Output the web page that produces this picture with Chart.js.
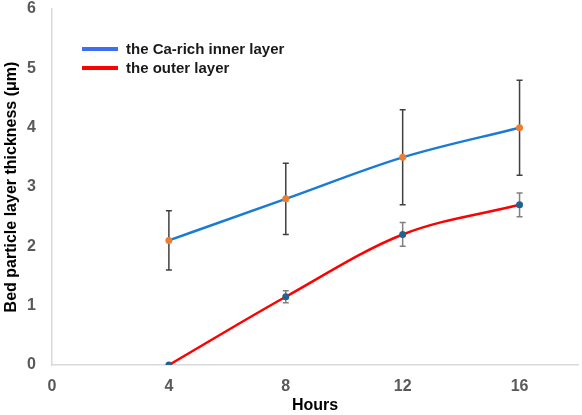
<!DOCTYPE html>
<html>
<head>
<meta charset="utf-8">
<script src="https://cdn.jsdelivr.net/npm/chart.js@4"></script>
<style>
  html, body { margin: 0; padding: 0; background: #fff; }
  #wrap { width: 582px; height: 415px; position: relative; }
</style>
</head>
<body>
<div id="wrap"><canvas id="thicknessChart"></canvas></div>
<script>
// data
const hours = [4, 8, 12, 16];
const innerLabel = 'the Ca-rich inner layer';
const innerValues = [2.1, 2.8, 3.5, 4.0];
const innerLow = [1.6, 2.2, 2.7, 3.2];
const innerHigh = [2.6, 3.4, 4.3, 4.8];
const outerLabel = 'the outer layer';
const outerValues = [0, 1.15, 2.2, 2.7];
const outerLow = [null, 1.05, 2.0, 2.5];
const outerHigh = [null, 1.25, 2.4, 2.9];
const xTicks = [0, 4, 8, 12, 16];

const tickFont = { family: 'Arial, "Liberation Sans"', size: 16, weight: 'bold' };
const titleFont = { family: 'Arial, "Liberation Sans"', size: 16, weight: 'bold' };

function toPoints(xs, ys) {
  return xs.map((x, i) => ({ x: x, y: ys[i] }));
}

// vertical error bars with small caps
const errorBars = {
  id: 'errorBars',
  beforeDatasetsDraw(chart) {
    const c = chart.ctx;
    const xs = chart.scales.x, ys = chart.scales.y;
    const sets = [
      { low: innerLow, high: innerHigh, color: '#404040' },
      { low: outerLow, high: outerHigh, color: '#808080' }
    ];
    c.save();
    sets.forEach(s => {
      c.strokeStyle = s.color;
      c.lineWidth = 1.5;
      hours.forEach((h, i) => {
        if (s.low[i] == null) return;
        const px = xs.getPixelForValue(h);
        const y1 = ys.getPixelForValue(s.low[i]);
        const y2 = ys.getPixelForValue(s.high[i]);
        c.beginPath();
        c.moveTo(px, y1); c.lineTo(px, y2);
        c.moveTo(px - 3, y1); c.lineTo(px + 3, y1);
        c.moveTo(px - 3, y2); c.lineTo(px + 3, y2);
        c.stroke();
      });
    });
    c.restore();
  }
};

// legend inside the plot, top left
const innerLegend = {
  id: 'innerLegend',
  afterDraw(chart) {
    const c = chart.ctx;
    const items = [
      { text: innerLabel, color: '#3d6ff2', y: 49 },
      { text: outerLabel, color: '#ff0000', y: 68 }
    ];
    c.save();
    c.font = 'bold 15px Arial, "Liberation Sans"';
    c.textBaseline = 'middle';
    items.forEach(it => {
      c.strokeStyle = it.color;
      c.lineWidth = 4;
      c.beginPath();
      c.moveTo(82, it.y); c.lineTo(118, it.y);
      c.stroke();
      c.fillStyle = '#1a1a1a';
      c.fillText(it.text, 126, it.y + 1);
    });
    c.restore();
  }
};

const chart = new Chart(document.getElementById('thicknessChart'), {
  type: 'line',
  data: {
    datasets: [{
      label: innerLabel,
      data: toPoints(hours, innerValues),
      borderColor: '#1a7bd3',
      borderWidth: 2.5,
      pointBackgroundColor: '#ed7d31',
      pointBorderWidth: 0,
      pointRadius: 3.5,
      cubicInterpolationMode: 'monotone'
    }, {
      label: outerLabel,
      data: toPoints(hours, outerValues),
      borderColor: '#ff0000',
      borderWidth: 2.5,
      pointBackgroundColor: '#1f6391',
      pointBorderWidth: 0,
      pointRadius: 3.5,
      cubicInterpolationMode: 'monotone'
    }]
  },
  options: {
    responsive: true,
    maintainAspectRatio: false,
    animation: false,
    layout: { padding: { top: 9, right: 1, bottom: 0, left: 0 } },
    plugins: {
      legend: { display: false },
      tooltip: { enabled: false }
    },
    scales: {
      x: {
        type: 'linear',
        min: 0,
        max: 18,
        grid: { display: false, drawTicks: false },
        border: { color: '#d9d9d9', width: 1.5 },
        afterBuildTicks: s => { s.ticks = xTicks.map(v => ({ value: v })); },
        afterFit: s => { s.height = 50; },
        ticks: { font: tickFont, color: '#595959', padding: 12 },
        title: { display: true, text: 'Hours', font: titleFont, color: '#000', padding: { top: 0, bottom: 0 } }
      },
      y: {
        min: 0,
        max: 6,
        grid: { display: false, drawTicks: false },
        border: { color: '#d9d9d9', width: 1.5 },
        afterFit: s => { s.width = 52; s.paddingTop = 0; s.paddingBottom = 0; },
        ticks: { stepSize: 1, font: tickFont, color: '#595959', padding: 16 },
        title: { display: true, text: 'Bed particle layer thickness (μm)', font: titleFont, color: '#000', padding: { top: 2, bottom: 0 } }
      }
    }
  },
  plugins: [errorBars, innerLegend]
});
</script>
</body>
</html>
